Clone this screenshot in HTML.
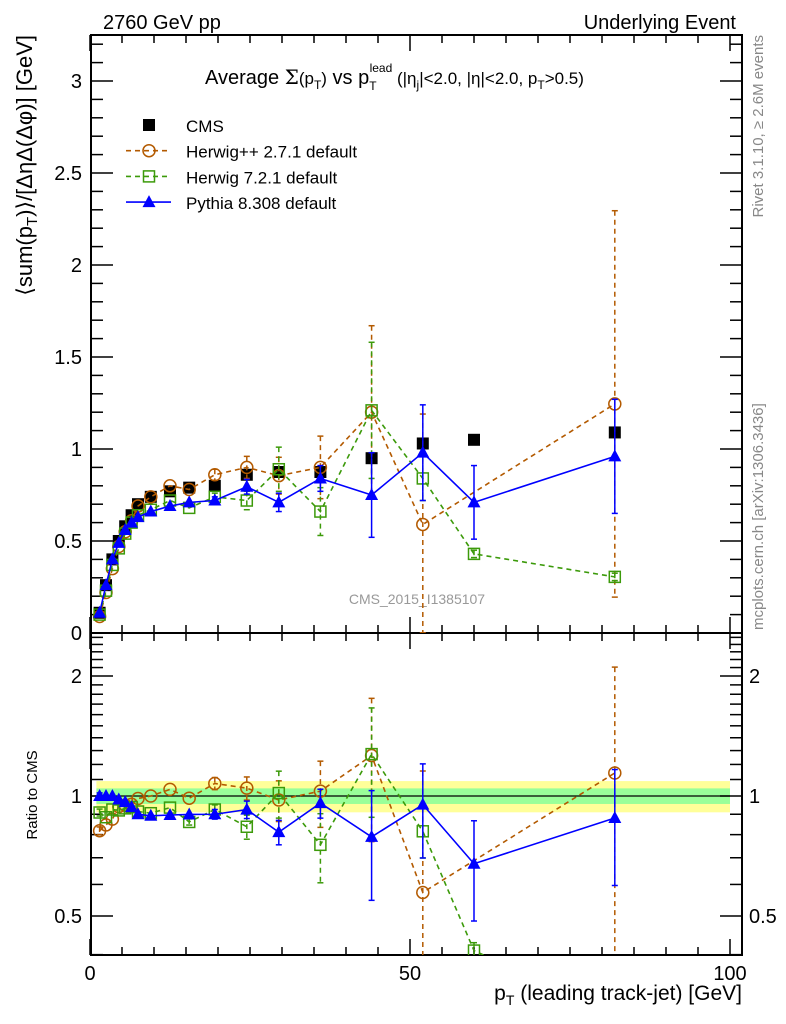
<!DOCTYPE html>
<html><head><meta charset="utf-8">
<style>
html,body{margin:0;padding:0;background:#fff;width:786px;height:1024px;overflow:hidden;}
svg{display:block;font-family:"Liberation Sans","DejaVu Sans",sans-serif;}
</style></head>
<body>
<svg id="chart" width="786" height="1024" viewBox="0 0 786 1024" xmlns="http://www.w3.org/2000/svg">
<text x="103" y="29" font-size="20">2760 GeV pp</text>
<text x="736" y="29" font-size="20" text-anchor="end">Underlying Event</text>
<text x="205" y="84" font-size="20">Average <tspan font-family="DejaVu Serif,serif">Σ</tspan><tspan font-size="17">(p</tspan><tspan font-size="12" dy="5">T</tspan><tspan font-size="17" dy="-5">)</tspan> vs p<tspan font-size="12" dy="6">T</tspan><tspan font-size="12" dy="-18" dx="-7">lead</tspan><tspan dy="12" font-size="17"> (|η</tspan><tspan font-size="12" dy="5">j</tspan><tspan font-size="17" dy="-5">|&lt;2.0, |η|&lt;2.0, p</tspan><tspan font-size="12" dy="5">T</tspan><tspan font-size="17" dy="-5">&gt;0.5)</tspan></text>
<text transform="translate(32,35) rotate(-90)" font-size="22" text-anchor="end">⟨sum(p<tspan font-size="15" dy="5">T</tspan><tspan dy="-5">)⟩/[ΔηΔ(Δφ)] [GeV]</tspan></text>
<text transform="translate(37,795) rotate(-90)" font-size="15" text-anchor="middle">Ratio to CMS</text>
<text x="742" y="1000" font-size="21" text-anchor="end">p<tspan font-size="14" dy="5">T</tspan><tspan dy="-5"> (leading track-jet) [GeV]</tspan></text>
<text transform="translate(763,35) rotate(-90)" font-size="15" fill="#888" text-anchor="end">Rivet 3.1.10, ≥ 2.6M events</text>
<text transform="translate(763,630) rotate(-90)" font-size="15" fill="#888">mcplots.cern.ch [arXiv:1306.3436]</text>
<text x="417" y="604" font-size="14" fill="#999" text-anchor="middle">CMS_2015_I1385107</text>
<g id="g"></g>
</svg>
<script>
const xs      = [1.5,2.5,3.5,4.5,5.5,6.5,7.5,9.5,12.5,15.5,19.5,24.5,29.5,36,44,52,60,82];
const cms     = [0.11,0.26,0.40,0.50,0.58,0.64,0.70,0.74,0.77,0.79,0.80,0.86,0.875,0.875,0.95,1.03,1.05,1.09];
const hpp     = [0.09,0.22,0.35,0.47,0.55,0.61,0.69,0.74,0.80,0.78,0.86,0.90,0.855,0.90,1.20,0.59,null,1.245];
const hppErr  = [0.002,0.003,0.004,0.005,0.005,0.006,0.007,0.008,0.01,0.012,0.03,0.06,0.10,0.17,0.47,0.60,0,1.05];
const h7      = [0.10,0.23,0.37,0.46,0.54,0.60,0.64,0.67,0.72,0.68,0.74,0.72,0.89,0.66,1.21,0.84,0.43,0.305];
const h7Err   = [0.002,0.003,0.004,0.005,0.005,0.006,0.007,0.008,0.01,0.012,0.02,0.05,0.12,0.13,0.37,0.12,0.02,0.02];
const py      = [0.11,0.26,0.40,0.49,0.56,0.60,0.63,0.66,0.69,0.71,0.72,0.795,0.71,0.84,0.75,0.98,0.71,0.96];
const pyErr   = [0.002,0.003,0.004,0.005,0.005,0.006,0.007,0.008,0.01,0.012,0.02,0.04,0.05,0.07,0.23,0.26,0.20,0.31];
const mainYTicks = [0,0.5,1,1.5,2,2.5,3];
const mainYLabels = ["0","0.5","1","1.5","2","2.5","3"];
const xTickLabels = ["0","50","100"];
const ratioTicks = [0.5,1,2];
const ratioLabels = ["0.5","1","2"];
const bandStat = 0.045, bandTot = 0.09;

const NS="http://www.w3.org/2000/svg";
const g=document.getElementById('g');
const L=91,R=742,MT=35,MB=633,RB=955;
const X=v=>90+v*6.4;
const Y=v=>633-v*184;
const RY=v=>796-Math.log2(v)*120;
const clamp=(v,a,b)=>Math.min(b,Math.max(a,v));
function el(t,a,p){const e=document.createElementNS(NS,t);for(const k in a)e.setAttribute(k,a[k]);(p||g).appendChild(e);return e;}

const defs=el('defs',{});
const c1=el('clipPath',{id:'cm'},defs);el('rect',{x:L,y:MT,width:R-L,height:MB-MT},c1);
const c2=el('clipPath',{id:'cr'},defs);el('rect',{x:L,y:MB,width:R-L,height:RB-MB},c2);

const bands=el('g',{'clip-path':'url(#cr)'});


el('rect',{x:X(1),y:RY(1+bandTot),width:X(100)-X(1),height:RY(1-bandTot)-RY(1+bandTot),fill:'#ffff99'},bands);
el('rect',{x:X(1),y:RY(1+bandStat),width:X(100)-X(1),height:RY(1-bandStat)-RY(1+bandStat),fill:'#99ff99'},bands);
el('line',{x1:L,x2:X(100),y1:RY(1),y2:RY(1),stroke:'#000','stroke-width':1.2},bands);

const fr=el('g',{fill:'none',stroke:'#000','stroke-width':2});


el('rect',{x:L,y:MT,width:R-L,height:MB-MT},fr);
el('rect',{x:L,y:MB,width:R-L,height:RB-MB},fr);

const tk=el('g',{stroke:'#000','stroke-width':1.5});


for(let v=0;v<=100;v+=5){
  const x=X(v),len=(v%50===0)?16:8;
  [[MT,1],[MB,-1],[MB,1],[RB,-1]].forEach(([y,d])=>el('line',{x1:x,x2:x,y1:y,y2:y+d*len},tk));
}
for(let i=0;i<=32;i++){
  const v=i/10,y=Y(v),len=(i%5===0)?22:12;
  if(y<MT)continue;
  el('line',{x1:L,x2:L+len,y1:y,y2:y},tk);
  el('line',{x1:R,x2:R-len,y1:y,y2:y},tk);
}
const rminor=[0.4,0.6,0.7,0.8,0.9,1.1,1.2,1.3,1.4,1.5,1.6,1.7,1.8,1.9,2.1,2.2,2.3,2.4,2.5];
rminor.forEach(v=>{const y=RY(v);if(y<MB||y>RB)return;el('line',{x1:L,x2:L+12,y1:y,y2:y},tk);el('line',{x1:R,x2:R-12,y1:y,y2:y},tk);});
ratioTicks.forEach(v=>{const y=RY(v);el('line',{x1:L,x2:L+22,y1:y,y2:y},tk);el('line',{x1:R,x2:R-22,y1:y,y2:y},tk);});

mainYTicks.forEach((v,i)=>{const t=el('text',{x:82,y:Y(v)+7,'font-size':20,'text-anchor':'end'});t.textContent=mainYLabels[i];

});
ratioTicks.forEach((v,i)=>{
  const t=el('text',{x:82,y:RY(v)+7,'font-size':20,'text-anchor':'end'});t.textContent=ratioLabels[i];
  
  
  const t2=el('text',{x:749,y:RY(v)+7,'font-size':20});t2.textContent=ratioLabels[i];
  
  
});
[0,50,100].forEach((v,i)=>{const t=el('text',{x:X(v),y:980,'font-size':20,'text-anchor':'middle'});t.textContent=xTickLabels[i];

});

function marker(type,x,y,col,parent){
  if(type==='sq') return el('rect',{x:x-6,y:y-6,width:12,height:12,fill:'#000'},parent);
  if(type==='circ') return el('circle',{cx:x,cy:y,r:6,fill:'none',stroke:col,'stroke-width':1.5},parent);
  if(type==='osq') return el('rect',{x:x-5.5,y:y-5.5,width:11,height:11,fill:'none',stroke:col,'stroke-width':1.5},parent);
  return el('polygon',{points:`${x},${y-7} ${x-6.5},${y+5} ${x+6.5},${y+5}`,fill:col},parent);
}
function series(name,vals,errs,col,dash,type,ratio){
  const grp=el('g',{'clip-path':ratio?'url(#cr)':'url(#cm)'});
  
  
  const top=ratio?MB-8:MT-8, bot=ratio?1020:MB+8;
  const fy=(v,i)=>clamp(ratio?RY(Math.max(v/cms[i],0.01)):Y(v),top,bot);
  let pts=[];
  vals.forEach((v,i)=>{if(v!==null)pts.push(X(xs[i])+','+fy(v,i));});
  if(col!=='#000') el('polyline',{points:pts.join(' '),fill:'none',stroke:col,'stroke-width':1.6,'stroke-dasharray':dash||'none'},grp);
  vals.forEach((v,i)=>{
    if(v===null)return;
    const x=X(xs[i]);
    if(errs){
      const e=errs[i],lo=Math.max(v-e,0.001);
      const y1=fy(v+e,i),y2=fy(lo,i);
      if(Math.abs(y2-y1)>6){
        el('line',{x1:x,x2:x,y1:y1,y2:y2,stroke:col,'stroke-width':1.5,'stroke-dasharray':dash||'none'},grp);
        el('line',{x1:x-3,x2:x+3,y1:y1,y2:y1,stroke:col,'stroke-width':1.5},grp);
        el('line',{x1:x-3,x2:x+3,y1:y2,y2:y2,stroke:col,'stroke-width':1.5},grp);
      }
    }
    const m=marker(type,x,fy(v,i),col,grp);
    
    
  });
}
series('cms-data',cms,null,'#000',null,'sq',false);
series('herwigpp-series',hpp,hppErr,'#b35a00','5,4','circ',false);
series('herwig7-series',h7,h7Err,'#3c9a0a','5,4','osq',false);
series('pythia-series',py,pyErr,'#0000ff',null,'tri',false);
series('herwigpp-ratio',hpp,hppErr,'#b35a00','5,4','circ',true);
series('herwig7-ratio',h7,h7Err,'#3c9a0a','5,4','osq',true);
series('pythia-ratio',py,pyErr,'#0000ff',null,'tri',true);

const leg=[['CMS','#000',null,'sq'],['Herwig++ 2.7.1 default','#b35a00','5,4','circ'],['Herwig 7.2.1 default','#3c9a0a','5,4','osq'],['Pythia 8.308 default','#0000ff',null,'tri']];
leg.forEach((d,i)=>{
  const y=125+i*25.7;
  const lg=el('g',{});
  
  
  if(d[0]!=='CMS') el('line',{x1:126,x2:171,y1:y,y2:y,stroke:d[1],'stroke-width':1.6,'stroke-dasharray':d[2]||'none'},lg);
  marker(d[3],149,y,d[1],lg);
  const t=el('text',{x:186,y:y+7,'font-size':17},lg);t.textContent=d[0];
});
</script>
</body></html>
